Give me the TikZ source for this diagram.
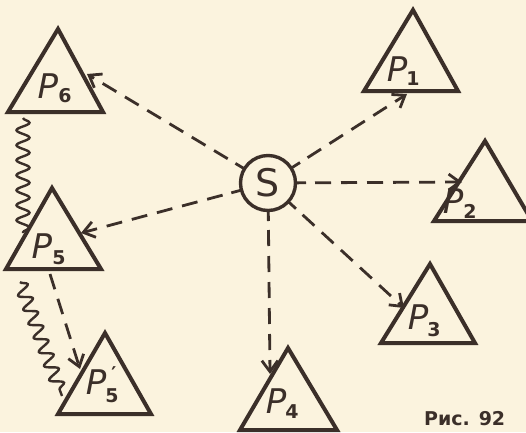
\documentclass[tikz,border=0pt]{standalone}
\usepackage{fontspec}
\setmainfont{DejaVu Sans}
\usetikzlibrary{arrows.meta,calc,decorations.pathmorphing}
\definecolor{paper}{HTML}{FBF3DE}
\definecolor{ink}{HTML}{3B2F29}
\tikzset{
  tri/.style={draw=ink,line width=4pt,line join=miter},
  plab/.style={text=ink,font=\fontsize{34}{34}\selectfont\itshape,inner sep=0pt},
  sublab/.style={text=ink,font=\fontsize{19}{19}\selectfont\bfseries,inner sep=0pt},
  conn/.style={draw=ink,line width=2.8pt,dash pattern=on 16pt off 10pt,
    -{Straight Barb[length=11pt,width=16pt,line width=2.8pt]}},
  stub/.style={draw=ink,line width=2.8pt},
  wave/.style={draw=ink,line width=2.4pt,decorate,
    decoration={snake,segment length=15pt,amplitude=6.5pt}}
}
\begin{document}
\begin{tikzpicture}[x=1pt,y=-1pt]
\fill[paper] (0,0) rectangle (526,432);
\useasboundingbox (0,0) rectangle (526,432);
\clip (0,0) rectangle (526,432);
% triangles
\draw[tri] (58,29) -- (8,112) -- (103,112) -- cycle;
\draw[tri] (52,188) -- (6,269) -- (101,269) -- cycle;
\draw[tri] (105,333) -- (58,414) -- (151,414) -- cycle;
\draw[tri] (413,10) -- (364,91) -- (458,91) -- cycle;
\draw[tri] (485,141) -- (434,221) -- (532,221) -- cycle;
\draw[tri] (430,264) -- (381,343) -- (475,343) -- cycle;
\draw[tri] (288,348) -- (240,430) -- (337,430) -- cycle;
% labels
\node[plab] (l6) at (48,86) {P};
\node[sublab] (s6) at (65,96) {6};
\node[plab] (l5) at (42,246) {P};
\node[sublab] (s5) at (59,258) {5};
\node[plab] (l5p) at (96,382) {P};
\node[sublab] (s5p) at (112,396) {5};
\node[sublab] (pr) at (114,374) {′};
\node[plab] (l1) at (397,69) {P};
\node[sublab] (s1) at (413,79) {1};
\node[plab] (l2) at (453,201) {P};
\node[sublab] (s2) at (470,211) {2};
\node[plab] (l3) at (418,317) {P};
\node[sublab] (s3) at (434,330) {3};
\node[plab] (l4) at (276,401) {P};
\node[sublab] (s4) at (292,412) {4};
% source
\node[draw=ink,line width=3.4pt,circle,minimum size=55pt,inner sep=0pt,
  text=ink,font=\fontsize{38}{38}\selectfont] (S) at (268,183) {S};
% targets
\coordinate (t6) at (87,74);
\coordinate (t5) at (81,233);
\coordinate (t1) at (407,94);
\coordinate (t2) at (462,182);
\coordinate (t3) at (404,308);
\coordinate (t4) at (270,374);
\foreach \t in {t6,t5,t1,t2,t3,t4}{
  \draw[stub] ($(S)!27pt!(\t)$) -- ($(S)!38pt!(\t)$);
  \draw[conn] ($(S)!47pt!(\t)$) -- (\t);
}
% P5 -> P5'
\coordinate (a5) at (50,274);
\coordinate (t5p) at (80,369);
\draw[conn] (a5) -- (t5p);
% wavy links
\coordinate (w1) at (23,118);
\coordinate (w2) at (23,233);
\draw[wave] (w1) -- (w2);
\coordinate (w3) at (20,282);
\coordinate (w4) at (62,396);
\draw[wave] (w3) -- (w4);
% caption
\node[anchor=base west,text=ink,inner sep=0pt,font=\fontsize{19}{19}\selectfont\bfseries] (cap) at (424,425) {Рис. 92};
\end{tikzpicture}
\end{document}
